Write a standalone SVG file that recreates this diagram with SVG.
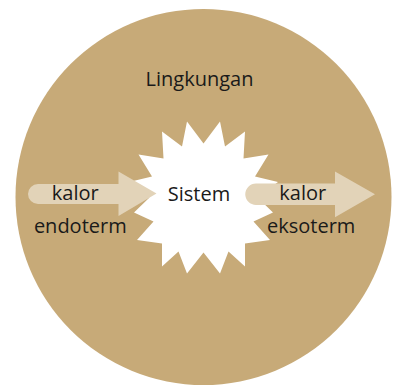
<svg xmlns="http://www.w3.org/2000/svg" width="393" height="385" viewBox="0 0 393 385">
  <style>
    .lbl { font-family: "Open Sans", "Noto Sans", "Liberation Sans", sans-serif; font-size: 20px; fill: #1a1a1a; text-anchor: middle; }
    .arrow { fill: #e2d3b8; }
  </style>
  <rect width="393" height="385" fill="#ffffff"/>
  <g id="lingkungan">
    <circle cx="203.5" cy="197" r="188" fill="#c7aa78"/>
    <text class="lbl" x="199.5" y="86">Lingkungan</text>
  </g>
  <g id="sistem">
    <polygon fill="#ffffff" points="203.5,143.5 220,121.5 225,146.5 245,131.5 243.5,158.5 268.5,154.5 255,176.5 278,182 257.5,197.5 273,212.5 253.5,221.5 270,240 245,243.5 245,266.5 228.5,251.5 220,273.5 203.5,252.5 187,273.5 178.5,251.5 162,266.5 162,243.5 137,240 153.5,221.5 134,212.5 149.5,197.5 129,182 152,176.5 138.5,154.5 163.5,158.5 162,131.5 182,146.5 187,121.5"/>
    <text class="lbl" x="199" y="200.5">Sistem</text>
  </g>
  <g id="connectors">
    <path class="arrow" d="M38,184 L118.5,184 L118.5,171.5 L156.5,193.5 L118.5,216 L118.5,204 L38,204 A10,10 0 0 1 38,184 Z"/>
    <path class="arrow" d="M256,183.5 L335,183.5 L335,171.5 L375,194.3 L335,217.3 L335,205 L256,205 A10.75,10.75 0 0 1 256,183.5 Z"/>
  </g>
  <g id="endoterm">
    <text class="lbl" x="75.3" y="200">kalor</text>
    <text class="lbl" x="80.3" y="233.3">endoterm</text>
  </g>
  <g id="eksoterm">
    <text class="lbl" x="302.8" y="200">kalor</text>
    <text class="lbl" x="311.2" y="233.3">eksoterm</text>
  </g>
</svg>
